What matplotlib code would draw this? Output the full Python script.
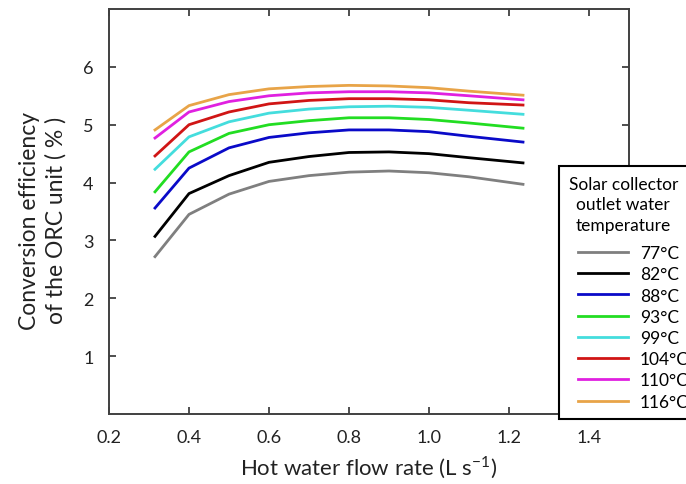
import matplotlib
matplotlib.use("Agg")
import matplotlib.pyplot as plt
from matplotlib.legend_handler import HandlerLine2D

plt.rcParams['font.family'] = ['Lato', 'DejaVu Sans']

# Hot water flow rate (L/s)
flow_rate = [0.315, 0.4, 0.5, 0.6, 0.7, 0.8, 0.9, 1.0, 1.1, 1.235]

# Conversion efficiency (%) for each solar collector outlet water temperature
eff_77 = [2.72, 3.45, 3.80, 4.02, 4.12, 4.18, 4.20, 4.17, 4.10, 3.97]
eff_82 = [3.07, 3.81, 4.12, 4.35, 4.45, 4.52, 4.53, 4.50, 4.43, 4.34]
eff_88 = [3.56, 4.25, 4.60, 4.78, 4.86, 4.91, 4.91, 4.88, 4.80, 4.70]
eff_93 = [3.84, 4.53, 4.85, 5.00, 5.07, 5.12, 5.12, 5.09, 5.03, 4.94]
eff_99 = [4.23, 4.79, 5.05, 5.20, 5.27, 5.31, 5.32, 5.30, 5.25, 5.18]
eff_104 = [4.46, 5.00, 5.22, 5.36, 5.42, 5.45, 5.45, 5.43, 5.38, 5.34]
eff_110 = [4.77, 5.22, 5.40, 5.50, 5.55, 5.57, 5.57, 5.55, 5.50, 5.43]
eff_116 = [4.91, 5.33, 5.52, 5.62, 5.66, 5.68, 5.67, 5.64, 5.58, 5.51]

labels = ['77°C', '82°C', '88°C', '93°C', '99°C', '104°C', '110°C', '116°C']
series = [eff_77, eff_82, eff_88, eff_93, eff_99, eff_104, eff_110, eff_116]
colors = ['#7f7f7f', '#000000', '#0a0ac8', '#22dd22', '#44dddd',
          '#d01515', '#e020e0', '#e8a448']

x_ticks = [0.2, 0.4, 0.6, 0.8, 1.0, 1.2, 1.4]
y_ticks = [1, 2, 3, 4, 5, 6]

fig = plt.figure(figsize=(6.86, 4.85), dpi=100)
ax = fig.add_axes([109 / 686, 70 / 485, 520 / 686, 405 / 485])

handles = []
for y, c, lab in zip(series, colors, labels):
    h, = ax.plot(flow_rate, y, color=c, lw=2.0, label=lab)
    handles.append(h)

ax.set_xlim(0.2, 1.5)
ax.set_ylim(0, 7)
ax.set_xticks(x_ticks)
ax.set_xticklabels([f'{v:.1f}' for v in x_ticks])
ax.set_yticks(y_ticks)

for s in ax.spines.values():
    s.set_color('#404040')
    s.set_linewidth(1.4)

ax.tick_params(direction='in', length=5, width=1.3, color='#404040',
               top=True, right=True, labelsize=13, labelcolor='#222222')
ax.tick_params(axis='x', pad=11)
ax.tick_params(axis='y', pad=11)

ax.set_xlabel('Hot water flow rate (L s$^{\\mathregular{-1}}$)', fontsize=16,
              color='#222222', labelpad=6)
ax.set_ylabel('Conversion efficiency\nof the ORC unit ( % )', fontsize=16.5,
              color='#222222', linespacing=1.3, va='center', ha='center',
              multialignment='center')
ax.yaxis.set_label_coords(-0.128, 0.48)

# legend lines are indented a little from the frame
line_handler = HandlerLine2D(xpad=0.55)
leg = fig.legend(handles=handles, labels=labels,
                 title='Solar collector\noutlet water\ntemperature',
                 loc='upper left', bbox_to_anchor=(559 / 686, 1 - 167 / 485),
                 bbox_transform=fig.transFigure, borderaxespad=0,
                 fontsize=12.5, title_fontsize=12.5, frameon=True, fancybox=False,
                 edgecolor='black', framealpha=1, handlelength=3.41,
                 handletextpad=0.7, labelspacing=0.3, borderpad=0.55,
                 alignment='left',
                 handler_map={h: line_handler for h in handles})
leg.get_frame().set_linewidth(1.5)
leg.get_title().set_multialignment('center')
leg.get_title().set_linespacing(1.35)
# extra gap between the title block and the entries
leg._legend_box.sep = 9

fig.savefig('out.png', dpi=100)
